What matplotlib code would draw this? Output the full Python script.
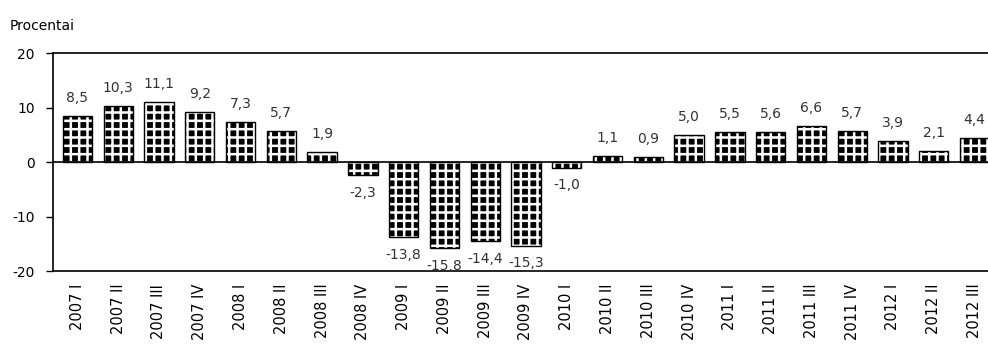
import matplotlib as mpl
import matplotlib.pyplot as plt
import numpy as np

mpl.rcParams["font.family"] = ["DejaVu Sans"]
mpl.rcParams["hatch.linewidth"] = 1.8

# duomenys
ketvirciai = ["2007 I", "2007 II", "2007 III", "2007 IV",
              "2008 I", "2008 II", "2008 III", "2008 IV",
              "2009 I", "2009 II", "2009 III", "2009 IV",
              "2010 I", "2010 II", "2010 III", "2010 IV",
              "2011 I", "2011 II", "2011 III", "2011 IV",
              "2012 I", "2012 II", "2012 III"]
reiksmes = [8.5, 10.3, 11.1, 9.2,
            7.3, 5.7, 1.9, -2.3,
            -13.8, -15.8, -14.4, -15.3,
            -1.0, 1.1, 0.9, 5.0,
            5.5, 5.6, 6.6, 5.7,
            3.9, 2.1, 4.4]

x = np.arange(len(reiksmes))
bar_width = 0.72

fig = plt.figure(figsize=(9.88, 3.54), dpi=100)
ax = fig.add_axes([0.0536, 0.234, 0.9464, 0.616])

# juodas stulpelis su baltu tinkleliu, ant virsaus juodas kontūras
ax.bar(x, reiksmes, bar_width, color="black", edgecolor="white", hatch="++", lw=0)
ax.bar(x, reiksmes, bar_width, fill=False, edgecolor="black", lw=1.0)

for xx, yy in zip(x, reiksmes):
    txt = ("%.1f" % yy).replace(".", ",")
    if yy >= 0:
        ax.text(xx, yy + 2.0, txt, ha="center", va="bottom", fontsize=10, color="#333333")
    else:
        ax.text(xx, yy - 2.0, txt, ha="center", va="top", fontsize=10, color="#333333")

ax.axhline(0, color="black", lw=1.2)
ax.set_ylim(-20, 20)
ax.set_xlim(-0.6, 22.33)
ax.set_yticks([-20, -10, 0, 10, 20])
ax.set_yticklabels(["-20", "-10", "0", "10", "20"], fontsize=10)
ax.set_xticks(x)
ax.set_xticklabels(ketvirciai, rotation=90, fontsize=10.5)
ax.tick_params(axis="x", length=0, pad=9)
ax.tick_params(axis="y", length=5, width=1, direction="out", pad=8)
ax.spines["right"].set_visible(False)
for s in ["top", "bottom", "left"]:
    ax.spines[s].set_linewidth(1.2)

fig.text(0.01, 0.945, "Procentai", fontsize=10, va="top")

fig.savefig("out.png", dpi=100)
